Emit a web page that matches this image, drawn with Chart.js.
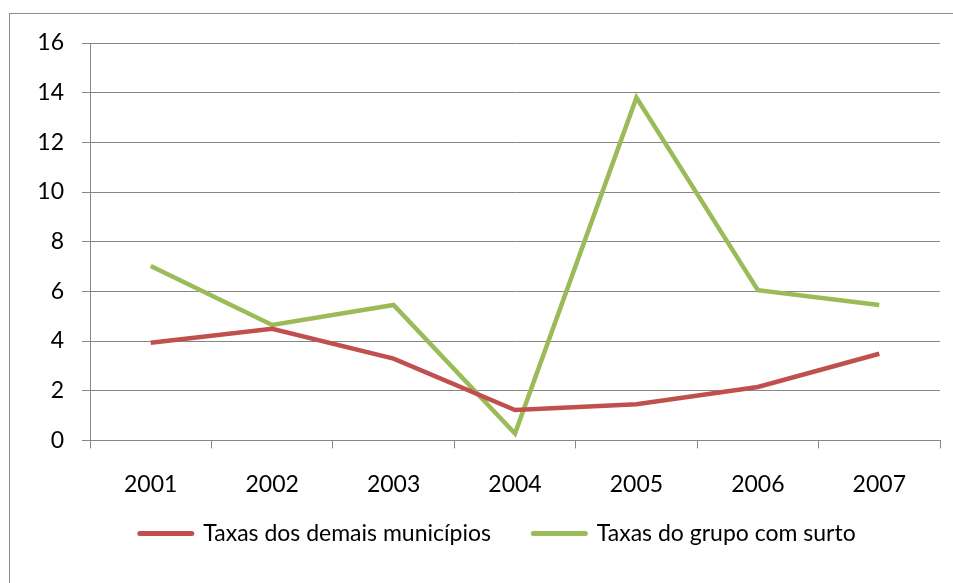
<!DOCTYPE html>
<html>
<head>
<meta charset="utf-8">
<script src="https://cdn.jsdelivr.net/npm/chart.js@4.4.1/dist/chart.umd.min.js"></script>
<style>
  body { margin: 0; background: #fff; }
  #wrap { position: relative; width: 953px; height: 583px; overflow: hidden; }
  #frame { position: absolute; left: 9px; top: 13px; width: 960px; height: 600px; border: 1px solid #8c8c8c; }
  canvas { position: absolute; left: 0; top: 0; }
</style>
</head>
<body>
<div id="wrap">
  <div id="frame"></div>
  <canvas id="chart" width="953" height="583"></canvas>
</div>
<script>
const years = ["2001", "2002", "2003", "2004", "2005", "2006", "2007"];
const demaisMunicipios = [3.93, 4.49, 3.29, 1.22, 1.46, 2.15, 3.49];
const grupoSurto = [7.02, 4.65, 5.45, 0.28, 13.8, 6.05, 5.45];
const yTicks = [0, 2, 4, 6, 8, 10, 12, 14, 16];

const gridColor = "#868686";
const fontFamily = "Lato";
const fontSize = 23;

new Chart(document.getElementById("chart"), {
    type: "line",
    data: {
        labels: years,
        datasets: [{
            label: "Taxas dos demais municípios",
            data: demaisMunicipios,
            borderColor: "#C0504D",
            backgroundColor: "#C0504D",
            borderWidth: 4.5,
            pointRadius: 0,
            tension: 0
        }, {
            label: "Taxas do grupo com surto",
            data: grupoSurto,
            borderColor: "#9BBB59",
            backgroundColor: "#9BBB59",
            borderWidth: 4.5,
            pointRadius: 0,
            tension: 0
        }]
    },
    options: {
        responsive: false,
        animation: false,
        layout: {
            padding: { top: 43, right: 13, left: 0, bottom: 28 }
        },
        scales: {
            x: {
                offset: true,
                grid: {
                    offset: true,
                    drawOnChartArea: false,
                    drawTicks: true,
                    tickLength: 8,
                    color: gridColor
                },
                border: { color: gridColor, width: 1 },
                ticks: {
                    color: "#000",
                    padding: 22,
                    maxRotation: 0,
                    font: { family: fontFamily, size: fontSize }
                }
            },
            y: {
                min: 0,
                max: 16,
                afterFit: scale => { scale.width = 90; },
                afterBuildTicks: scale => { scale.ticks = yTicks.map(v => ({ value: v })); },
                grid: {
                    color: gridColor,
                    tickLength: 8
                },
                border: { color: gridColor, width: 1 },
                ticks: {
                    color: "#000",
                    padding: 18,
                    font: { family: fontFamily, size: fontSize }
                }
            }
        },
        plugins: {
            legend: {
                position: "bottom",
                fullSize: false,
                labels: {
                    usePointStyle: true,
                    pointStyle: "line",
                    pointStyleWidth: 52,
                    padding: 2,
                    color: "#000",
                    font: { family: fontFamily, size: fontSize },
                    generateLabels: chart => {
                        const items = Chart.defaults.plugins.legend.labels.generateLabels(chart);
                        items.forEach(it => {
                            it.pointStyle = "line";
                            it.lineWidth = 5;
                            it.lineCap = "round";
                        });
                        // spacing like the original legend
                        items[0].text = items[0].text + "\u2003\u2003 ";
                        items[1].text = items[1].text + "\u2003\u2003";
                        return items;
                    }
                }
            },
            tooltip: { enabled: false }
        }
    }
});
</script>
</body>
</html>
